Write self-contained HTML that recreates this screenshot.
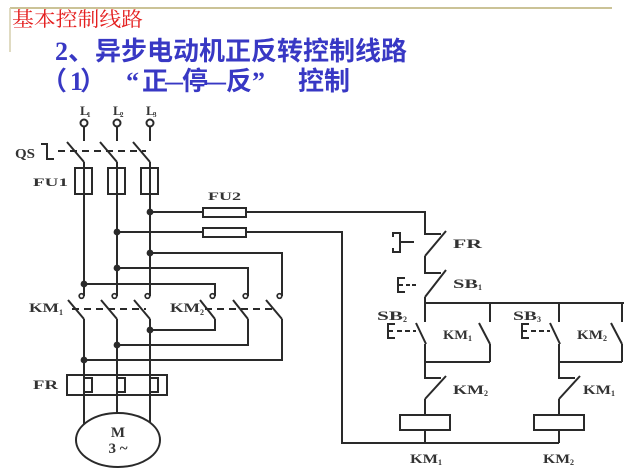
<!DOCTYPE html>
<html><head><meta charset="utf-8"><style>
html,body{margin:0;padding:0;background:#fff;}
svg{display:block}
</style></head><body>
<svg width="640" height="471" viewBox="0 0 640 471" xmlns="http://www.w3.org/2000/svg">
<rect width="640" height="471" fill="#fff"/>
<!-- title frame -->
<line x1="10" y1="8" x2="612" y2="8" stroke="#cbc397" stroke-width="2"/>
<line x1="10" y1="8" x2="10" y2="52" stroke="#d6cfae" stroke-width="1.5"/>
<text x="12" y="26" font-family="'Noto Serif CJK SC','Noto Sans CJK SC',serif" font-size="20" fill="#e41e1e" textLength="131" lengthAdjust="spacingAndGlyphs">基本控制线路</text>

<!-- line 2 -->
<g fill="#3838c4" font-size="26">
<text x="55" y="60" font-family="'Liberation Serif',serif" font-weight="bold">2</text>
<text x="68" y="60" font-family="'Noto Sans CJK SC',sans-serif" font-weight="bold">、</text>
<text x="95" y="60" font-family="'Noto Sans CJK SC',sans-serif" font-weight="bold" textLength="312" lengthAdjust="spacingAndGlyphs">异步电动机正反转控制线路</text>
<!-- line 3 -->
<text x="41" y="90" font-family="'Noto Sans CJK SC',sans-serif" font-weight="bold">（</text>
<text x="70" y="90" font-family="'Liberation Serif',serif" font-weight="bold">1</text>
<text x="80" y="90" font-family="'Noto Sans CJK SC',sans-serif" font-weight="bold">）</text>
<text x="126" y="90" font-family="'Liberation Serif',serif" font-weight="bold">“</text>
<text x="142" y="90" font-family="'Noto Sans CJK SC',sans-serif" font-weight="bold">正</text>
<text x="165" y="90" font-family="'Liberation Serif',serif" font-weight="bold" textLength="18" lengthAdjust="spacingAndGlyphs">—</text>
<text x="182" y="90" font-family="'Noto Sans CJK SC',sans-serif" font-weight="bold">停</text>
<text x="207" y="90" font-family="'Liberation Serif',serif" font-weight="bold" textLength="19" lengthAdjust="spacingAndGlyphs">—</text>
<text x="226" y="90" font-family="'Noto Sans CJK SC',sans-serif" font-weight="bold">反</text>
<text x="252" y="90" font-family="'Liberation Serif',serif" font-weight="bold">”</text>
<text x="298" y="90" font-family="'Noto Sans CJK SC',sans-serif" font-weight="bold">控</text>
<text x="324" y="90" font-family="'Noto Sans CJK SC',sans-serif" font-weight="bold">制</text>
</g>

<!-- wiring -->
<g stroke="#2a2a2a" stroke-width="2" fill="none" stroke-linejoin="miter">
<!-- supply taps -->
<path d="M84 127 V141 M117 127 V141 M150 127 V141"/>
<path d="M67 142 L84 162 M100 142 L117 162 M133 142 L150 162"/>
<path d="M84 162 V296 M117 162 V296 M150 162 V296"/>
<rect x="75" y="168" width="17" height="26"/>
<rect x="108" y="168" width="17" height="26"/>
<rect x="141" y="168" width="17" height="26"/>
<!-- QS symbol -->
<path d="M41 144 H47 V159 H54"/>
<path d="M58 151 H146" stroke-dasharray="7 5"/>
<!-- KM1 main -->
<path d="M68 300 L84 319 M101 300 L117 319 M134 300 L150 319"/>
<path d="M84 319 V430 M117 319 V430 M150 319 V430"/>
<path d="M72 309 H146" stroke-dasharray="7 5"/>
<!-- FR box -->
<rect x="67" y="375" width="100" height="20"/>
<path d="M84 378 H92 V392 H84 M117 378 H125 V392 H117 M150 378 H158 V392 H150"/>
<!-- taps to FU2 and KM2 -->
<path d="M150 212 H203 M246 212 H425 V234 H441"/>
<rect x="203" y="208" width="43" height="9"/>
<path d="M117 232 H203 M246 232 H342 V443 H559"/>
<rect x="203" y="228" width="43" height="9"/>
<path d="M150 253 H282 V296 M117 268 H248 V296 M84 284 H215 V296"/>
<!-- KM2 main -->
<path d="M200 300 L215 319 M233 300 L248 319 M266 300 L282 319"/>
<path d="M205 309 H276" stroke-dasharray="7 5"/>
<path d="M215 319 V330 H150 M248 319 V345 H117 M282 319 V360 H84"/>
<!-- terminals -->
<g stroke-width="1.7">
<circle cx="81.5" cy="296" r="2.3"/><circle cx="114.5" cy="296" r="2.3"/><circle cx="147.5" cy="296" r="2.3"/>
<circle cx="212.5" cy="296" r="2.3"/><circle cx="245.5" cy="296" r="2.3"/><circle cx="279.5" cy="296" r="2.3"/>
</g>

<!-- control circuit -->
<path d="M446 231 L425 256 M425 256 V273 H441 M446 270 L425 297 M425 297 V322"/>
<path d="M393 237 V233 H400 V252 H393 V248 M400 242 H414"/>
<path d="M405 278 H398 V292 H405 M398 285 H403"/>
<path d="M406 285 H416" stroke-dasharray="4 2"/>
<path d="M425 303 H624 M490 303 V322 M559 303 V322 M622 303 V322"/>
<!-- left branch -->
<path d="M416 323 L426 344 M425 344 V378 H441 M425 362 H490 M479 323 L490 344 M490 344 V362"/>
<path d="M446 376 L425 399 M425 399 V415 M425 430 V443"/>
<rect x="400" y="415" width="50" height="15"/>
<path d="M395 324 H388 V338 H395 M388 331 H393"/>
<path d="M397 331 H416" stroke-dasharray="5 3"/>
<!-- right branch -->
<path d="M550 323 L560 344 M559 344 V378 H575 M559 362 H622 M611 323 L622 344 M622 344 V362"/>
<path d="M580 376 L559 399 M559 399 V415 M559 430 V443"/>
<rect x="534" y="415" width="50" height="15"/>
<path d="M529 324 H522 V338 H529 M522 331 H527"/>
<path d="M531 331 H550" stroke-dasharray="5 3"/>
<!-- top circles -->
<circle cx="84" cy="123" r="3.5" fill="#fff"/>
<circle cx="117" cy="123" r="3.5" fill="#fff"/>
<circle cx="150" cy="123" r="3.5" fill="#fff"/>
<!-- motor -->
<ellipse cx="118" cy="440" rx="42" ry="27" fill="#fff"/>
</g>

<!-- junction dots -->
<g fill="#2a2a2a">
<circle cx="150" cy="212" r="3.4"/><circle cx="117" cy="232" r="3.4"/>
<circle cx="150" cy="253" r="3.4"/><circle cx="117" cy="268" r="3.4"/>
<circle cx="84" cy="284" r="3.4"/><circle cx="150" cy="330" r="3.4"/>
<circle cx="117" cy="345" r="3.4"/><circle cx="84" cy="360" r="3.4"/>
</g>

<!-- labels -->
<g font-family="'Liberation Serif',serif" font-weight="bold" fill="#333">
<text x="80" y="115" font-size="13">L</text><text x="87" y="117" font-size="7">1</text>
<text x="113" y="115" font-size="13">L</text><text x="120" y="117" font-size="7">2</text>
<text x="146" y="115" font-size="13">L</text><text x="153" y="117" font-size="7">3</text>
<text x="15" y="158" font-size="14" textLength="20" lengthAdjust="spacingAndGlyphs">QS</text>
<text x="33" y="186" font-size="12" textLength="35" lengthAdjust="spacingAndGlyphs">FU1</text>
<text x="208" y="200" font-size="12" textLength="33" lengthAdjust="spacingAndGlyphs">FU2</text>
<text x="29" y="312" font-size="13" textLength="30" lengthAdjust="spacingAndGlyphs">KM</text><text x="59" y="315" font-size="8">1</text>
<text x="170" y="312" font-size="13" textLength="30" lengthAdjust="spacingAndGlyphs">KM</text><text x="200" y="315" font-size="8">2</text>
<text x="33" y="389" font-size="13" textLength="25" lengthAdjust="spacingAndGlyphs">FR</text>
<text x="118" y="437" font-size="15" text-anchor="middle">M</text>
<text x="118" y="453" font-size="15" text-anchor="middle">3 ~</text>
<text x="453" y="248" font-size="13" textLength="29" lengthAdjust="spacingAndGlyphs">FR</text>
<text x="453" y="288" font-size="13" textLength="25" lengthAdjust="spacingAndGlyphs">SB</text><text x="478" y="290" font-size="8">1</text>
<text x="377" y="320" font-size="13" textLength="26" lengthAdjust="spacingAndGlyphs">SB</text><text x="403" y="322" font-size="8">2</text>
<text x="513" y="320" font-size="13" textLength="24" lengthAdjust="spacingAndGlyphs">SB</text><text x="537" y="322" font-size="8">3</text>
<text x="443" y="339" font-size="13" textLength="25" lengthAdjust="spacingAndGlyphs">KM</text><text x="468" y="341" font-size="8">1</text>
<text x="577" y="339" font-size="13" textLength="26" lengthAdjust="spacingAndGlyphs">KM</text><text x="603" y="341" font-size="8">2</text>
<text x="453" y="394" font-size="13" textLength="31" lengthAdjust="spacingAndGlyphs">KM</text><text x="484" y="396" font-size="8">2</text>
<text x="583" y="394" font-size="13" textLength="28" lengthAdjust="spacingAndGlyphs">KM</text><text x="611" y="396" font-size="8">1</text>
<text x="410" y="463" font-size="13" textLength="28" lengthAdjust="spacingAndGlyphs">KM</text><text x="438" y="465" font-size="8">1</text>
<text x="543" y="463" font-size="13" textLength="27" lengthAdjust="spacingAndGlyphs">KM</text><text x="570" y="465" font-size="8">2</text>
</g>
</svg>
</body></html>
